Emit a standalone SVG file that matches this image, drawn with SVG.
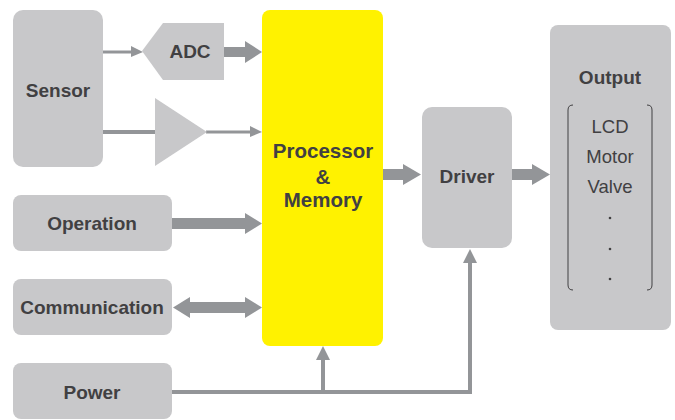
<svg xmlns="http://www.w3.org/2000/svg" width="675" height="420" viewBox="0 0 675 420">
<style>
.box{fill:#c8c8ca}
.lbl{font-family:"Liberation Sans",Arial,sans-serif;font-weight:bold;font-size:19px;fill:#414042;text-anchor:middle}
.item{font-family:"Liberation Sans",Arial,sans-serif;font-size:18.5px;fill:#414042;text-anchor:middle}
.ar{fill:#939598}
.ln{stroke:#939598;fill:none}
</style>
<rect width="675" height="420" fill="#ffffff"/>
<g id="connectors">
  <line class="ln" x1="103" y1="52" x2="132" y2="52" stroke-width="3"/>
  <polygon class="ar" points="131,46 143,52 131,57"/>
  <rect class="ar" x="224" y="47" width="22" height="10"/>
  <polygon class="ar" points="245,41 262,52 245,63"/>
  <line class="ln" x1="103" y1="132" x2="156" y2="132" stroke-width="4"/>
  <line class="ln" x1="206" y1="132" x2="252" y2="132" stroke-width="3"/>
  <polygon class="ar" points="250,126 262,132 250,137"/>
  <rect class="ar" x="172" y="218" width="74" height="11"/>
  <polygon class="ar" points="245,213 262,223.5 245,234"/>
  <rect class="ar" x="188" y="302" width="58" height="11"/>
  <polygon class="ar" points="190,297 173,307.5 190,318"/>
  <polygon class="ar" points="245,297 262,307.5 245,318"/>
  <rect class="ar" x="383" y="169" width="22" height="11"/>
  <polygon class="ar" points="403,164 421,174.5 403,185"/>
  <rect class="ar" x="512" y="169" width="22" height="11"/>
  <polygon class="ar" points="532,164 550,174.5 532,185"/>
  <polyline class="ln" points="172,392 470,392 470,260" stroke-width="4"/>
  <polygon class="ar" points="463,263 470,249 477,263"/>
  <line class="ln" x1="323" y1="392" x2="323" y2="356" stroke-width="4"/>
  <polygon class="ar" points="316,360 323,346 330,360"/>
</g>
<g id="sensor">
  <rect class="box" x="13" y="10" width="90" height="157" rx="10"/>
  <text class="lbl" x="58" y="97">Sensor</text>
</g>
<g id="adc">
  <polygon class="box" points="142,51 163,23 224,23 224,80 163,80"/>
  <text class="lbl" x="190" y="58">ADC</text>
</g>
<g id="amplifier">
  <polygon class="box" points="155,98 207,132 155,166"/>
</g>
<g id="operation">
  <rect class="box" x="13" y="195" width="159" height="56" rx="8"/>
  <text class="lbl" x="92" y="230">Operation</text>
</g>
<g id="communication">
  <rect class="box" x="13" y="279" width="159" height="56" rx="8"/>
  <text class="lbl" x="92" y="314">Communication</text>
</g>
<g id="power">
  <rect class="box" x="13" y="363" width="159" height="56" rx="8"/>
  <text class="lbl" x="92" y="399">Power</text>
</g>
<g id="processor">
  <rect x="262" y="10" width="121" height="336" rx="8" fill="#fff200"/>
  <text class="lbl" x="323" y="158" style="font-size:20.5px">Processor</text>
  <text class="lbl" x="323" y="184" style="font-size:20.5px">&amp;</text>
  <text class="lbl" x="323" y="207" style="font-size:20.5px">Memory</text>
</g>
<g id="driver">
  <rect class="box" x="422" y="107" width="90" height="141" rx="10"/>
  <text class="lbl" x="467" y="183">Driver</text>
</g>
<g id="output">
  <rect class="box" x="550" y="25" width="121" height="305" rx="8"/>
  <text class="lbl" x="610" y="84">Output</text>
  <path d="M573,105 Q568,105 568,110 L568,285 Q568,290 573,290" fill="none" stroke="#414042" stroke-width="1"/>
  <path d="M647,105 Q652,105 652,110 L652,285 Q652,290 647,290" fill="none" stroke="#414042" stroke-width="1"/>
  <text class="item" x="610" y="133">LCD</text>
  <text class="item" x="610" y="163">Motor</text>
  <text class="item" x="610" y="193">Valve</text>
  <circle cx="610" cy="218" r="1.3" fill="#414042"/>
  <circle cx="610" cy="249" r="1.3" fill="#414042"/>
  <circle cx="610" cy="279" r="1.3" fill="#414042"/>
</g>
</svg>
